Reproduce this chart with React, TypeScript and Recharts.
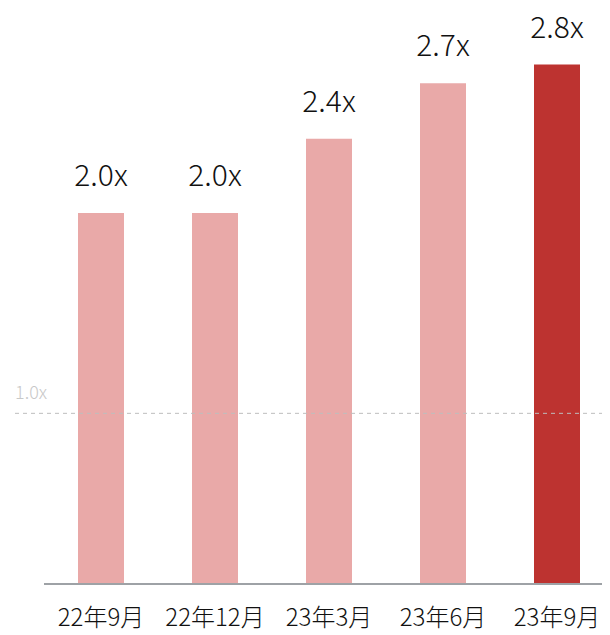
import React from 'react';
import { BarChart, Bar, XAxis, YAxis, Cell, LabelList, ReferenceLine } from 'recharts';

// Values
const categories = ['22年9月', '22年12月', '23年3月', '23年6月', '23年9月'];
const multiples = [2.0, 2.0, 2.4, 2.7, 2.8];
const barColors = ['#E9A9A8', '#E9A9A8', '#E9A9A8', '#E9A9A8', '#BD3330'];
const referenceValue = 0.92;
const referenceLabel = '1.0x';

const data = categories.map((name, i) => ({ name, value: multiples[i] }));

const font = '"Noto Sans CJK JP", "Noto Sans", sans-serif';

const App: React.FC = () => {
  return (
    <div style={{ margin: '-8px 0 0 -8px', width: 610, height: 635 }}>
      <BarChart
        width={610}
        height={635}
        data={data}
        margin={{ top: 27.5, right: -4, left: 44, bottom: 0 }}
        style={{ fontFamily: font }}
      >
        <XAxis
          dataKey="name"
          height={51}
          tickLine={false}
          tickMargin={19}
          interval={0}
          axisLine={{ stroke: '#9EA2A6', strokeWidth: 2 }}
          tick={{ fontSize: 24, fill: '#111', fontFamily: font, fontWeight: 300 }}
        />
        <YAxis hide domain={[0, 3]} />
        <ReferenceLine
          y={referenceValue}
          stroke="#BDBDBD"
          strokeDasharray="4 4"
          shape={(p: any) => (
            <line x1={p.x1 - 29} y1={p.y1} x2={p.x2} y2={p.y2} stroke="#BDBDBD" strokeWidth={1} strokeDasharray="4 4" />
          )}
          label={(p: any) => (
            <text x={p.viewBox.x - 29} y={p.viewBox.y - 14} fontSize={18} fill="#C8C8C8" fontFamily={font} fontWeight={300}>
              {referenceLabel}
            </text>
          )}
        />
        <Bar dataKey="value" barSize={46} isAnimationActive={false}>
          {data.map((d, i) => (
            <Cell key={d.name} fill={barColors[i]} />
          ))}
          <LabelList
            dataKey="value"
            position="top"
            offset={27}
            formatter={(v: any) => `${Number(v).toFixed(1)}x`}
            style={{ fontSize: 30, fill: '#111', fontFamily: font, fontWeight: 300 }}
          />
        </Bar>
      </BarChart>
    </div>
  );
};

export default App;
